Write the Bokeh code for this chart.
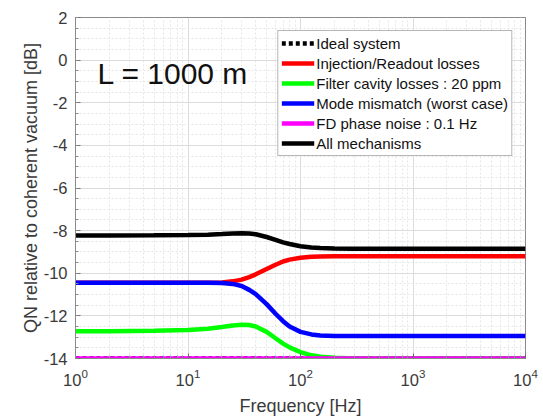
from bokeh.plotting import figure
from bokeh.models import Legend, LegendItem, Label, FixedTicker, Range1d
from bokeh.embed import file_html
from bokeh.resources import INLINE

# Frequency grid [Hz] and quantum-noise level per mechanism [dB rel. coherent vacuum]
freq = [1, 2, 5, 10, 15, 20, 25, 30, 35, 40, 50, 60, 70, 80, 100, 125, 150,
        200, 300, 500, 1000, 10000]

ideal = [-14.0] * len(freq)
injection_readout = [-10.45, -10.45, -10.45, -10.45, -10.45, -10.43, -10.38,
                     -10.30, -10.18, -10.05, -9.80, -9.60, -9.45, -9.36, -9.27,
                     -9.23, -9.21, -9.20, -9.20, -9.20, -9.20, -9.20]
filter_cavity = [-12.72, -12.72, -12.70, -12.66, -12.60, -12.52, -12.45,
                 -12.42, -12.43, -12.50, -12.75, -13.05, -13.30, -13.48,
                 -13.70, -13.85, -13.92, -13.97, -14.00, -14.00, -14.00, -14.00]
mode_mismatch = [-10.45, -10.45, -10.45, -10.45, -10.45, -10.46, -10.50,
                 -10.60, -10.78, -10.98, -11.45, -11.90, -12.25, -12.50,
                 -12.75, -12.87, -12.92, -12.95, -12.95, -12.95, -12.95, -12.95]
phase_noise = [-14.0] * len(freq)
all_mechanisms = [-8.23, -8.23, -8.22, -8.21, -8.19, -8.16, -8.13, -8.12,
                  -8.13, -8.17, -8.30, -8.43, -8.55, -8.63, -8.73, -8.79,
                  -8.82, -8.84, -8.85, -8.85, -8.85, -8.85]

y_ticks = [2, 0, -2, -4, -6, -8, -10, -12, -14]
x_ticks = [1, 10, 100, 1000, 10000]

FONT = "Liberation Sans"
TXT = "#3a3a3a"

p = figure(width=543, height=418, x_axis_type="log",
           x_range=Range1d(1, 10000), y_range=Range1d(-14, 2),
           output_backend="svg", toolbar_location=None,
           min_border_left=75, min_border_right=18,
           min_border_top=17, min_border_bottom=59,
           background_fill_color="white", border_fill_color="white")

# frame and grids
p.outline_line_color = "#8a8a8a"
p.outline_line_width = 1
for g in (p.xgrid[0], p.ygrid[0]):
    g.grid_line_color = "#dcdcdc"
    g.grid_line_width = 1
    g.minor_grid_line_color = "#e6e6e6"
    g.minor_grid_line_dash = "2 2"

# axes
xa = p.xaxis[0]
ya = p.yaxis[0]
xa.ticker = FixedTicker(ticks=x_ticks,
                        minor_ticks=[m * 10 ** k for k in range(4) for m in range(2, 10)])
ya.ticker = FixedTicker(ticks=y_ticks,
                        minor_ticks=[v / 2 for v in range(-28, 5)])
# plain hyphen-minus for negative tick labels
ya.major_label_overrides = {v: str(v) for v in y_ticks}
for ax in (xa, ya):
    ax.axis_line_color = "#8a8a8a"
    ax.major_tick_line_color = "#6a6a6a"
    ax.minor_tick_line_color = "#8a8a8a"
    ax.major_tick_in = 5
    ax.major_tick_out = 0
    ax.minor_tick_in = 3
    ax.minor_tick_out = 0
    ax.major_label_text_font = FONT
    ax.major_label_text_font_size = "16.5px"
    ax.major_label_text_color = TXT
    ax.axis_label_text_font = FONT
    ax.axis_label_text_font_size = "18px"
    ax.axis_label_text_font_style = "normal"
    ax.axis_label_text_color = TXT

xa.axis_label = "Frequency [Hz]"
ya.axis_label = "QN relative to coherent vacuum [dB]"
ya.major_label_standoff = 8
ya.axis_label_standoff = 0
xa.major_label_standoff = 10
xa.axis_label_standoff = 7

lw = 4.5
r_ideal = p.line(freq, ideal, line_color="black", line_width=lw, line_dash="4 3")
r_inj = p.line(freq, injection_readout, line_color="#ff0000", line_width=lw)
r_fc = p.line(freq, filter_cavity, line_color="#00ff00", line_width=lw)
r_mm = p.line(freq, mode_mismatch, line_color="#0000ff", line_width=lw)
r_pn = p.line(freq, phase_noise, line_color="#ff00ff", line_width=lw)
r_all = p.line(freq, all_mechanisms, line_color="black", line_width=lw)

legend = Legend(items=[
    LegendItem(label="Ideal system", renderers=[r_ideal]),
    LegendItem(label="Injection/Readout losses", renderers=[r_inj]),
    LegendItem(label="Filter cavity losses : 20 ppm", renderers=[r_fc]),
    LegendItem(label="Mode mismatch (worst case)", renderers=[r_mm]),
    LegendItem(label="FD phase noise : 0.1 Hz", renderers=[r_pn]),
    LegendItem(label="All mechanisms", renderers=[r_all]),
], location="top_right")
legend.margin = 13
legend.padding = 3
legend.spacing = 2
legend.glyph_width = 33
legend.glyph_height = 18
legend.label_height = 18
legend.label_standoff = 2
legend.label_text_font = FONT
legend.label_text_font_size = "15px"
legend.label_text_color = "#111111"
legend.border_line_color = "#6f6f6f"
legend.border_line_width = 1
legend.background_fill_color = "white"
legend.background_fill_alpha = 1
p.add_layout(legend)

p.add_layout(Label(x=1.57, y=-0.62, text="L = 1000 m", text_font=FONT,
                   text_font_size="30px", text_color="#111111",
                   text_baseline="alphabetic"))

open("out.html", "w").write(file_html(p, INLINE))
